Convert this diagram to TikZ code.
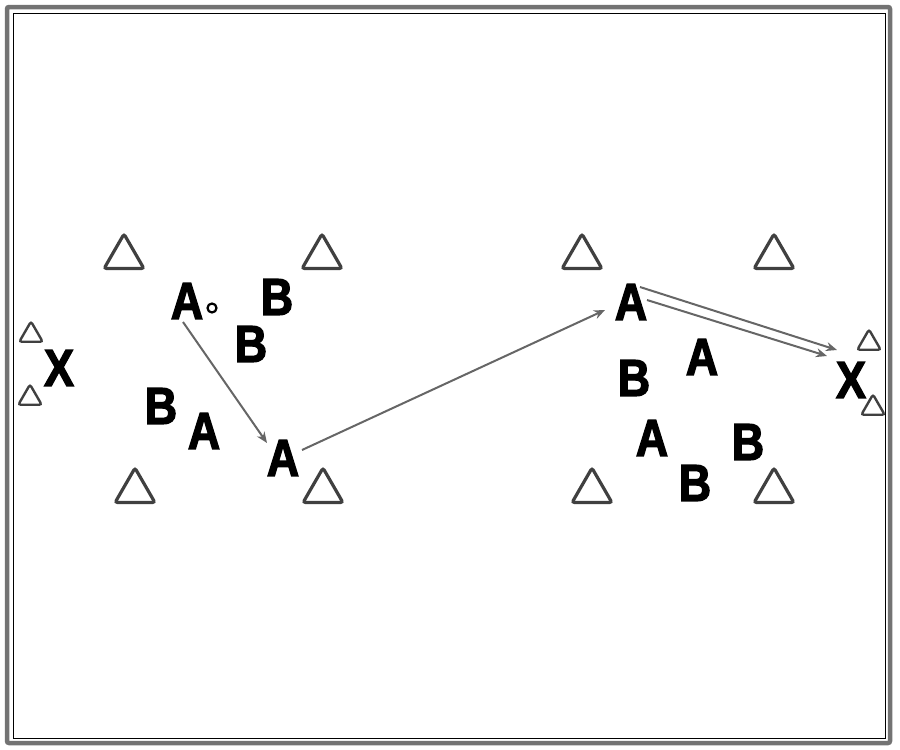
\documentclass[tikz,border=0pt]{standalone}
\usepackage{fontspec}
\newfontfamily\playerfont{Liberation Sans}[FakeStretch=0.86,FakeBold=2.5]
\usetikzlibrary{arrows.meta,shapes.geometric}
\tikzset{%
  >={Stealth[width=9pt,length=11pt,fill=black]},
  % Specifications for style of nodes:
         cone/.style = {regular polygon, regular polygon sides=3,
                        draw=black!75, line width=3.2pt, rounded corners=2.5pt,
                        minimum size=46pt, inner sep=0pt},
    smallcone/.style = {cone, line width=2.4pt, minimum size=27pt},
       player/.style = {inner sep=0pt, font=\playerfont\bfseries\fontsize{52}{52}\selectfont},
         pass/.style = {->, draw=black!60, line width=2pt},
}

\begin{document}
\begin{tikzpicture}[x=1pt,y=-1pt]
  \useasboundingbox (0,0) rectangle (900,750);
  % pitch frame
  \draw[black!55, line width=4.5pt, rounded corners=2pt] (7,7) rectangle (890,743);
  \draw[black, line width=1pt] (13,13) rectangle (885,738);

  % cones (left grid)
  \node (c1)  [cone] at (124,257) {};
  \node (c2)  [cone] at (322,257) {};
  \node (c3)  [cone] at (135,491) {};
  \node (c4)  [cone] at (323,491) {};
  % cones (right grid)
  \node (c5)  [cone] at (582,257) {};
  \node (c6)  [cone] at (774,257) {};
  \node (c7)  [cone] at (592,491) {};
  \node (c8)  [cone] at (774,491) {};
  % goal cones
  \node (g1)  [smallcone] at (31,335) {};
  \node (g2)  [smallcone] at (30,398) {};
  \node (g3)  [smallcone] at (869,343) {};
  \node (g4)  [smallcone] at (873,408) {};

  % players, left grid
  \node (aL1) [player] at (187,301) {A};
  \node (bL1) [player] at (277,297) {B};
  \node (bL2) [player] at (251,344) {B};
  \node (xL)  [player] at (59,368)  {X};
  \node (bL3) [player] at (161,406) {B};
  \node (aL2) [player] at (204,431) {A};
  \node (aL3) [player] at (283,458) {A};
  \node (ball) [circle, draw=black, line width=2.2pt, minimum size=9pt, inner sep=0pt] at (212,308) {};

  % players, right grid
  \node (aR1) [player] at (631,302) {A};
  \node (aR2) [player] at (702,357) {A};
  \node (bR1) [player] at (634,378) {B};
  \node (xR)  [player] at (851,380) {X};
  \node (aR3) [player] at (652,438) {A};
  \node (bR2) [player] at (748,442) {B};
  \node (bR3) [player] at (695,483) {B};

  % passes and runs
  \draw[pass] ([xshift=-4pt,yshift=-21pt]aL1.center) -- ([xshift=-16pt,yshift=15pt]aL3.center);
  \draw[pass] ([xshift=19pt,yshift=8pt]aL3.center) -- ([xshift=-26pt,yshift=-8pt]aR1.center);
  \draw[pass] ([xshift=9pt,yshift=15pt]aR1.center) -- ([xshift=-14pt,yshift=30pt]xR.center);
  \draw[pass] ([xshift=16pt,yshift=2pt]aR1.center) -- ([xshift=-24pt,yshift=24pt]xR.center);

\end{tikzpicture}
\end{document}
